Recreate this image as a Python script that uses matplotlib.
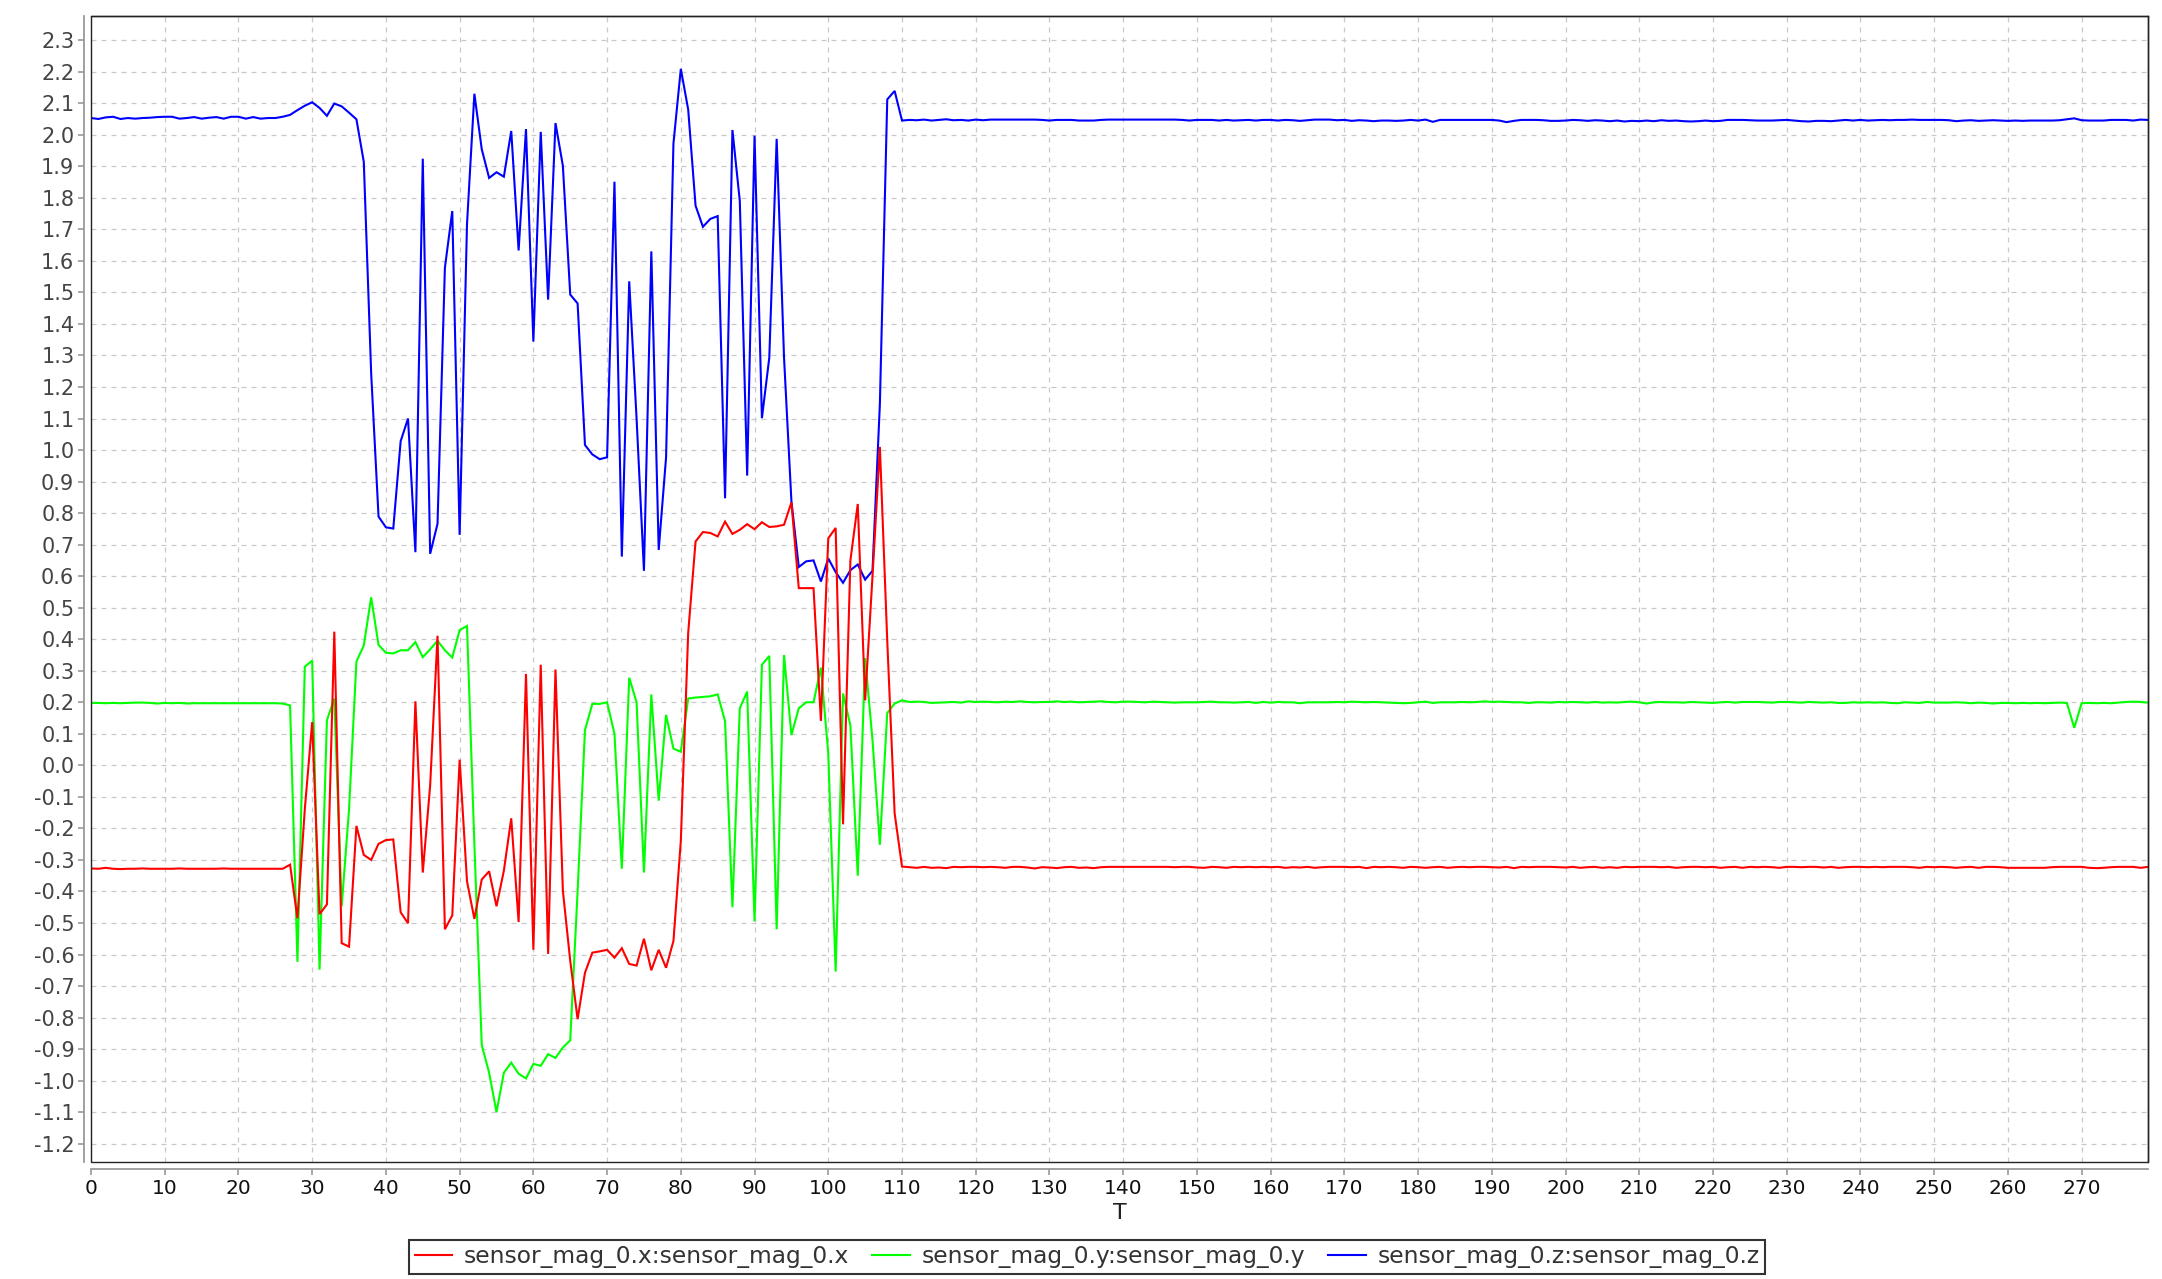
import numpy as np
import matplotlib
matplotlib.use("Agg")
import matplotlib.pyplot as plt
from matplotlib.patches import Rectangle

# ---------------- data ----------------
series_labels = ["sensor_mag_0.x:sensor_mag_0.x",
                 "sensor_mag_0.y:sensor_mag_0.y",
                 "sensor_mag_0.z:sensor_mag_0.z"]

# T = 0 .. 25
x_head = [-0.327, -0.328, -0.325, -0.328, -0.329, -0.328, -0.328, -0.327, -0.328, -0.328,
          -0.328, -0.328, -0.327, -0.328, -0.328, -0.328, -0.328, -0.328, -0.327, -0.328,
          -0.328, -0.328, -0.328, -0.328, -0.328, -0.328]
y_head = [0.198, 0.198, 0.197, 0.198, 0.197, 0.198, 0.199, 0.199, 0.198, 0.196,
          0.198, 0.197, 0.198, 0.196, 0.197, 0.197, 0.197, 0.197, 0.197, 0.197,
          0.197, 0.197, 0.197, 0.197, 0.197, 0.197]
z_head = [2.053, 2.050, 2.055, 2.057, 2.050, 2.053, 2.051, 2.053, 2.054, 2.056,
          2.057, 2.057, 2.051, 2.053, 2.056, 2.051, 2.054, 2.056, 2.051, 2.057,
          2.057, 2.051, 2.056, 2.051, 2.053, 2.053]

# T = 26 .. 110
x_mid = [-0.328, -0.315, -0.485, -0.139, 0.137, -0.472, -0.441, 0.424, -0.564, -0.575,
         -0.192, -0.284, -0.300, -0.249, -0.237, -0.235, -0.466, -0.501, 0.203, -0.340,
         -0.064, 0.411, -0.520, -0.476, 0.018, -0.368, -0.487, -0.362, -0.336, -0.447,
         -0.334, -0.168, -0.497, 0.290, -0.585, 0.319, -0.598, 0.304, -0.397, -0.620,
         -0.805, -0.658, -0.594, -0.590, -0.585, -0.610, -0.580, -0.630, -0.635, -0.550,
         -0.650, -0.585, -0.642, -0.557, -0.240, 0.420, 0.710, 0.740, 0.737, 0.726,
         0.773, 0.734, 0.747, 0.765, 0.749, 0.771, 0.756, 0.758, 0.763, 0.834,
         0.562, 0.562, 0.562, 0.141, 0.720, 0.753, -0.187, 0.650, 0.829, 0.206,
         0.600, 1.010, 0.395, -0.152, -0.321]
y_mid = [0.196, 0.190, -0.623, 0.313, 0.332, -0.648, 0.143, 0.212, -0.447, -0.139,
         0.329, 0.380, 0.533, 0.382, 0.357, 0.355, 0.365, 0.365, 0.391, 0.343,
         0.368, 0.395, 0.365, 0.342, 0.429, 0.442, -0.250, -0.887, -0.975, -1.100,
         -0.975, -0.943, -0.978, -0.993, -0.947, -0.953, -0.916, -0.928, -0.895, -0.872,
         -0.400, 0.112, 0.195, 0.195, 0.200, 0.100, -0.328, 0.278, 0.200, -0.340,
         0.225, -0.112, 0.160, 0.053, 0.043, 0.212, 0.215, 0.217, 0.219, 0.225,
         0.140, -0.450, 0.181, 0.234, -0.495, 0.319, 0.347, -0.520, 0.350, 0.096,
         0.181, 0.200, 0.200, 0.310, 0.037, -0.654, 0.228, 0.127, -0.350, 0.340,
         0.080, -0.252, 0.166, 0.196, 0.206]
z_mid = [2.057, 2.063, 2.078, 2.092, 2.103, 2.085, 2.060, 2.099, 2.090, 2.070,
         2.049, 1.914, 1.244, 0.789, 0.755, 0.751, 1.028, 1.100, 0.676, 1.924,
         0.671, 0.766, 1.578, 1.758, 0.731, 1.717, 2.130, 1.954, 1.863, 1.881,
         1.867, 2.012, 1.633, 2.018, 1.344, 2.009, 1.477, 2.037, 1.902, 1.493,
         1.465, 1.016, 0.986, 0.971, 0.977, 1.851, 0.662, 1.535, 1.100, 0.617,
         1.630, 0.683, 0.977, 1.972, 2.209, 2.080, 1.775, 1.708, 1.733, 1.742,
         0.847, 2.015, 1.790, 0.919, 1.997, 1.101, 1.293, 1.987, 1.293, 0.838,
         0.629, 0.647, 0.650, 0.583, 0.656, 0.613, 0.579, 0.619, 0.637, 0.589,
         0.617, 1.147, 2.112, 2.139, 2.045]

# T = 111 .. 279
x_tail = [-0.323, -0.325, -0.322, -0.325, -0.324, -0.326, -0.322, -0.323, -0.322, -0.322,
          -0.323, -0.322, -0.323, -0.325, -0.322, -0.322, -0.324, -0.327, -0.323, -0.324,
          -0.326, -0.323, -0.322, -0.325, -0.324, -0.326, -0.323, -0.322, -0.322, -0.322,
          -0.322, -0.322, -0.322, -0.322, -0.322, -0.322, -0.323, -0.322, -0.322, -0.324,
          -0.325, -0.322, -0.323, -0.325, -0.322, -0.323, -0.322, -0.323, -0.322, -0.323,
          -0.322, -0.325, -0.323, -0.324, -0.322, -0.325, -0.323, -0.322, -0.322, -0.322,
          -0.323, -0.322, -0.326, -0.322, -0.323, -0.322, -0.323, -0.325, -0.322, -0.323,
          -0.325, -0.323, -0.322, -0.325, -0.323, -0.322, -0.323, -0.322, -0.322, -0.323,
          -0.324, -0.322, -0.326, -0.322, -0.323, -0.322, -0.322, -0.322, -0.323, -0.324,
          -0.322, -0.325, -0.323, -0.322, -0.325, -0.323, -0.325, -0.322, -0.323, -0.322,
          -0.322, -0.322, -0.323, -0.322, -0.325, -0.323, -0.322, -0.322, -0.323, -0.322,
          -0.325, -0.323, -0.322, -0.325, -0.322, -0.323, -0.322, -0.323, -0.325, -0.322,
          -0.322, -0.323, -0.322, -0.322, -0.324, -0.322, -0.325, -0.323, -0.322, -0.322,
          -0.323, -0.322, -0.323, -0.322, -0.322, -0.322, -0.323, -0.325, -0.322, -0.323,
          -0.322, -0.323, -0.325, -0.323, -0.322, -0.325, -0.322, -0.322, -0.323, -0.325,
          -0.325, -0.325, -0.325, -0.325, -0.325, -0.323, -0.322, -0.322, -0.322, -0.322,
          -0.325, -0.326, -0.325, -0.323, -0.322, -0.322, -0.322, -0.325, -0.322]
y_tail = [0.201, 0.202, 0.201, 0.198, 0.199, 0.200, 0.201, 0.199, 0.203, 0.201,
          0.202, 0.201, 0.200, 0.202, 0.201, 0.203, 0.201, 0.200, 0.201, 0.201,
          0.203, 0.201, 0.202, 0.200, 0.201, 0.202, 0.203, 0.201, 0.200, 0.202,
          0.202, 0.201, 0.200, 0.202, 0.201, 0.200, 0.199, 0.200, 0.200, 0.200,
          0.201, 0.202, 0.200, 0.200, 0.199, 0.200, 0.201, 0.198, 0.201, 0.199,
          0.201, 0.200, 0.200, 0.197, 0.200, 0.200, 0.200, 0.200, 0.201, 0.200,
          0.202, 0.201, 0.200, 0.201, 0.200, 0.199, 0.198, 0.197, 0.198, 0.200,
          0.202, 0.198, 0.200, 0.200, 0.200, 0.201, 0.200, 0.201, 0.203, 0.201,
          0.202, 0.201, 0.200, 0.200, 0.198, 0.200, 0.200, 0.199, 0.201, 0.200,
          0.201, 0.200, 0.199, 0.201, 0.199, 0.200, 0.199, 0.201, 0.202, 0.200,
          0.196, 0.200, 0.201, 0.200, 0.200, 0.199, 0.201, 0.200, 0.199, 0.198,
          0.200, 0.201, 0.199, 0.201, 0.201, 0.201, 0.200, 0.199, 0.201, 0.201,
          0.200, 0.199, 0.201, 0.200, 0.199, 0.200, 0.198, 0.198, 0.200, 0.199,
          0.200, 0.199, 0.200, 0.198, 0.197, 0.200, 0.199, 0.198, 0.201, 0.199,
          0.199, 0.199, 0.200, 0.199, 0.197, 0.199, 0.198, 0.196, 0.198, 0.198,
          0.197, 0.198, 0.197, 0.198, 0.197, 0.198, 0.199, 0.198, 0.119, 0.197,
          0.198, 0.197, 0.198, 0.197, 0.199, 0.201, 0.202, 0.201, 0.199]
z_tail = [2.047, 2.046, 2.048, 2.045, 2.047, 2.049, 2.046, 2.047, 2.045, 2.048,
          2.046, 2.048, 2.048, 2.048, 2.048, 2.048, 2.048, 2.048, 2.047, 2.045,
          2.047, 2.047, 2.047, 2.045, 2.045, 2.045, 2.047, 2.048, 2.048, 2.048,
          2.048, 2.048, 2.048, 2.048, 2.048, 2.048, 2.048, 2.047, 2.045, 2.047,
          2.047, 2.047, 2.045, 2.047, 2.045, 2.046, 2.047, 2.045, 2.047, 2.047,
          2.045, 2.047, 2.046, 2.044, 2.046, 2.048, 2.048, 2.048, 2.046, 2.047,
          2.044, 2.046, 2.045, 2.043, 2.045, 2.045, 2.044, 2.045, 2.047, 2.045,
          2.048, 2.041, 2.047, 2.047, 2.047, 2.047, 2.047, 2.047, 2.047, 2.047,
          2.045, 2.040, 2.044, 2.047, 2.047, 2.047, 2.046, 2.044, 2.044, 2.045,
          2.047, 2.046, 2.044, 2.046, 2.045, 2.043, 2.045, 2.042, 2.044, 2.043,
          2.045, 2.043, 2.046, 2.044, 2.045, 2.043, 2.042, 2.043, 2.045, 2.043,
          2.044, 2.047, 2.047, 2.047, 2.046, 2.045, 2.045, 2.045, 2.046, 2.047,
          2.045, 2.043, 2.042, 2.044, 2.044, 2.043, 2.045, 2.047, 2.045, 2.047,
          2.045, 2.046, 2.047, 2.046, 2.047, 2.047, 2.048, 2.047, 2.047, 2.047,
          2.047, 2.046, 2.043, 2.045, 2.046, 2.044, 2.045, 2.046, 2.045, 2.044,
          2.045, 2.044, 2.045, 2.045, 2.045, 2.045, 2.046, 2.049, 2.052, 2.046,
          2.045, 2.045, 2.045, 2.047, 2.047, 2.047, 2.045, 2.048, 2.047]

x_ticks = list(range(0, 280, 10))
y_ticks = [round(v / 10, 1) for v in range(-12, 24)]

# ---------------- assemble ----------------
mag_x = x_head + x_mid + x_tail
mag_y = y_head + y_mid + y_tail
mag_z = z_head + z_mid + z_tail
T = list(range(len(mag_x)))

colors = ["#FF0000", "#00FF00", "#0000FF"]

fig = plt.figure(figsize=(21.62, 12.79), dpi=100)
fig.patch.set_facecolor("white")
ax = fig.add_axes([0.04209, 0.09148, 0.95143, 0.89562])
ax.set_facecolor("white")

lw = 1.5
# JFreeChart draws series 0 on top -> draw in reverse order
lz, = ax.plot(T, mag_z, color=colors[2], lw=lw, zorder=3, solid_joinstyle="miter")
ly, = ax.plot(T, mag_y, color=colors[1], lw=lw, zorder=4, solid_joinstyle="miter")
lx, = ax.plot(T, mag_x, color=colors[0], lw=lw, zorder=5, solid_joinstyle="miter")

ax.set_xlim(0, 279)
ax.set_ylim(-1.258, 2.375)
ax.set_xticks(x_ticks)
ax.set_yticks(y_ticks)
ax.set_xticklabels([str(v) for v in x_ticks])
ax.set_yticklabels([("%.1f" % v).replace("-0.0", "0.0") for v in y_ticks])

ax.set_axisbelow(True)
ax.grid(True, color="#C9C9C9", linestyle=(0, (4, 4)), linewidth=0.9)

for s in ["top", "right"]:
    ax.spines[s].set_color("#222222")
    ax.spines[s].set_linewidth(1.0)
for s in ["left", "bottom"]:
    ax.spines[s].set_position(("outward", 5))
    ax.spines[s].set_color("#9A9A9A")
    ax.spines[s].set_linewidth(1.3)
ax.add_patch(Rectangle((0, 0), 1, 1, transform=ax.transAxes, fill=False,
                       ec="#222222", lw=1.0, clip_on=False, zorder=6))

ax.tick_params(axis="both", direction="out", length=4, width=1.2, color="#9A9A9A", pad=3)
ax.tick_params(axis="y", labelsize=15, labelcolor="#444444")
ax.tick_params(axis="x", labelsize=14.5, labelcolor="#111111")

fig.text(0.5178, 1 - 1213 / 1279, "T", ha="center", va="center", fontsize=16, color="#222222")

leg = fig.legend([lx, ly, lz], series_labels, loc="center",
                 bbox_to_anchor=(0.5028, 1 - 1257 / 1279), ncol=3, frameon=True,
                 fancybox=False, edgecolor="black", fontsize=16.8, handlelength=1.6,
                 handletextpad=0.5, columnspacing=1.0, borderpad=0.25)
leg.get_frame().set_linewidth(1.5)
for t in leg.get_texts():
    t.set_color("#333333")

fig.savefig("out.png", dpi=100, facecolor="white")
